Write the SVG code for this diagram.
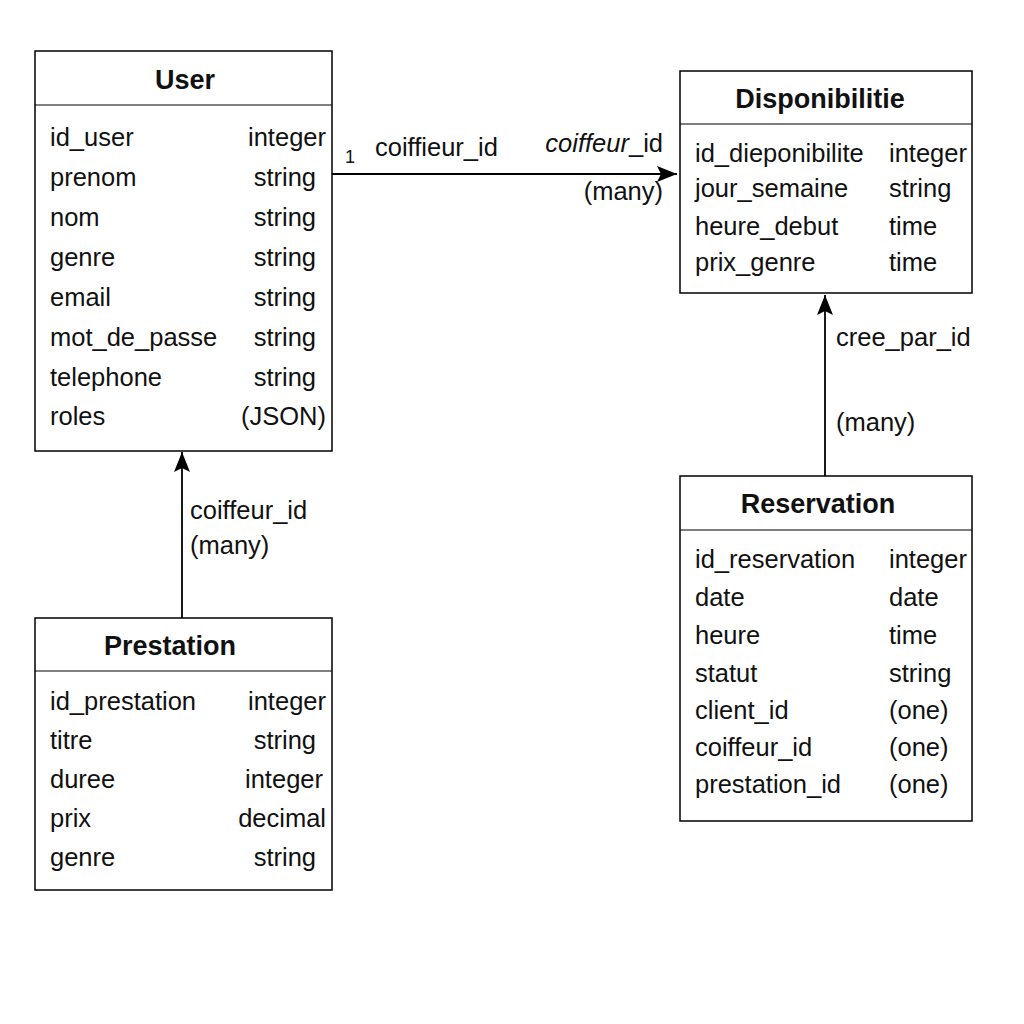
<svg xmlns="http://www.w3.org/2000/svg" width="1024" height="1024" viewBox="0 0 1024 1024">
<style>
.box{fill:#fff;stroke:#000;stroke-width:1.5}
.div{stroke:#000;stroke-width:1.2}
.t{font-family:"Liberation Sans",Arial,sans-serif;font-size:25.5px;fill:#111;dominant-baseline:central}
.h{font-family:"Liberation Sans",Arial,sans-serif;font-size:27px;font-weight:bold;fill:#111;text-anchor:middle;dominant-baseline:central}
.r{text-anchor:end}
.c{stroke:#000;stroke-width:1.8;fill:none}
</style>
<defs>
<marker id="arrL" viewBox="0 0 20 16" refX="20" refY="8" markerWidth="20" markerHeight="16" markerUnits="userSpaceOnUse" orient="auto"><path d="M0,0 L20,8 L0,16 L4,8 z" fill="#000"/></marker>
</defs>
<rect width="1024" height="1024" fill="#fff"/>
<g id="connectors">
<line class="c" x1="332" y1="174" x2="677" y2="174" marker-end="url(#arrL)"/>
<line class="c" x1="182" y1="618" x2="182" y2="452" marker-end="url(#arrL)"/>
<line class="c" x1="825" y1="476" x2="825" y2="295" marker-end="url(#arrL)"/>
<text class="t" x="345" y="157" style="font-size:18px">1</text>
<text class="t" x="375" y="147">coiffieur_id</text>
<text class="t r" x="663" y="143"><tspan font-style="italic">coiffeur</tspan>_id</text>
<text class="t r" x="663" y="191">(many)</text>
<text class="t" x="190" y="510">coiffeur_id</text>
<text class="t" x="190" y="545">(many)</text>
<text class="t" x="836" y="337">cree_par_id</text>
<text class="t" x="836" y="422">(many)</text>
</g>
<g id="user">
<rect class="box" x="35" y="51" width="297" height="400"/>
<line class="div" x1="35" y1="105" x2="332" y2="105"/>
<text class="h" x="185" y="80">User</text>
<text class="t" x="50" y="137">id_user</text><text class="t r" x="326" y="137">integer</text>
<text class="t" x="50" y="177">prenom</text><text class="t r" x="316" y="177">string</text>
<text class="t" x="50" y="217">nom</text><text class="t r" x="316" y="217">string</text>
<text class="t" x="50" y="257">genre</text><text class="t r" x="316" y="257">string</text>
<text class="t" x="50" y="297">email</text><text class="t r" x="316" y="297">string</text>
<text class="t" x="50" y="337">mot_de_passe</text><text class="t r" x="316" y="337">string</text>
<text class="t" x="50" y="377">telephone</text><text class="t r" x="316" y="377">string</text>
<text class="t" x="50" y="416">roles</text><text class="t r" x="326" y="416">(JSON)</text>
</g>
<g id="disponibilitie">
<rect class="box" x="680" y="71" width="292" height="222"/>
<line class="div" x1="680" y1="124" x2="972" y2="124"/>
<text class="h" x="820" y="99">Disponibilitie</text>
<text class="t" x="695" y="153">id_dieponibilite</text><text class="t" x="889" y="153">integer</text>
<text class="t" x="695" y="188">jour_semaine</text><text class="t" x="889" y="188">string</text>
<text class="t" x="695" y="226">heure_debut</text><text class="t" x="889" y="226">time</text>
<text class="t" x="695" y="262">prix_genre</text><text class="t" x="889" y="262">time</text>
</g>
<g id="reservation">
<rect class="box" x="680" y="476" width="292" height="345"/>
<line class="div" x1="680" y1="530" x2="972" y2="530"/>
<text class="h" x="818" y="504">Reservation</text>
<text class="t" x="695" y="559">id_reservation</text><text class="t" x="889" y="559">integer</text>
<text class="t" x="695" y="597">date</text><text class="t" x="889" y="597">date</text>
<text class="t" x="695" y="635">heure</text><text class="t" x="889" y="635">time</text>
<text class="t" x="695" y="673">statut</text><text class="t" x="889" y="673">string</text>
<text class="t" x="695" y="710">client_id</text><text class="t" x="889" y="710">(one)</text>
<text class="t" x="695" y="747">coiffeur_id</text><text class="t" x="889" y="747">(one)</text>
<text class="t" x="695" y="784">prestation_id</text><text class="t" x="889" y="784">(one)</text>
</g>
<g id="prestation">
<rect class="box" x="35" y="618" width="297" height="272"/>
<line class="div" x1="35" y1="671" x2="332" y2="671"/>
<text class="h" x="170" y="646">Prestation</text>
<text class="t" x="50" y="701">id_prestation</text><text class="t r" x="326" y="701">integer</text>
<text class="t" x="50" y="740">titre</text><text class="t r" x="316" y="740">string</text>
<text class="t" x="50" y="779">duree</text><text class="t r" x="323" y="779">integer</text>
<text class="t" x="50" y="818">prix</text><text class="t r" x="326" y="818">decimal</text>
<text class="t" x="50" y="857">genre</text><text class="t r" x="316" y="857">string</text>
</g>
</svg>
